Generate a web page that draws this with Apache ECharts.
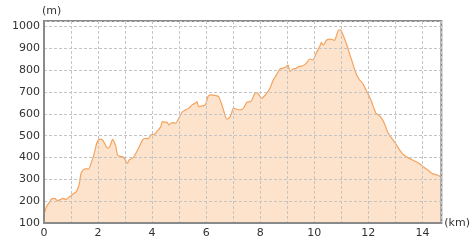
<!DOCTYPE html>
<html><head><meta charset="utf-8">
<script src="https://cdn.jsdelivr.net/npm/echarts@6/dist/echarts.min.js"></script>
<style>html,body{margin:0;padding:0;background:#fff}#c{width:473px;height:249px}</style>
</head><body><div id="c"></div>
<script>
const distanceKm = [0,0.03,0.09,0.21,0.27,0.39,0.5,0.6,0.7,0.82,0.94,1.07,1.19,1.25,1.31,1.37,1.45,1.55,1.65,1.74,1.86,1.95,2.02,2.1,2.18,2.3,2.38,2.45,2.54,2.6,2.66,2.72,2.82,2.9,2.98,3.09,3.15,3.27,3.36,3.46,3.55,3.64,3.76,3.85,3.95,4.05,4.13,4.25,4.32,4.38,4.48,4.56,4.62,4.68,4.74,4.87,4.99,5.11,5.24,5.36,5.48,5.6,5.66,5.72,5.85,5.97,6.07,6.15,6.25,6.34,6.46,6.56,6.64,6.71,6.76,6.89,7.01,7.13,7.26,7.38,7.5,7.62,7.68,7.75,7.83,7.9,7.96,8.05,8.11,8.24,8.36,8.48,8.6,8.73,8.85,8.97,9.03,9.1,9.22,9.34,9.46,9.58,9.71,9.83,9.95,10.07,10.2,10.26,10.32,10.38,10.44,10.57,10.69,10.75,10.81,10.87,10.93,10.99,11.06,11.18,11.3,11.42,11.54,11.67,11.79,11.91,12.04,12.16,12.28,12.34,12.46,12.59,12.71,12.83,12.96,13.08,13.2,13.32,13.51,13.69,13.88,14.06,14.24,14.36,14.55,14.67];
const elevationM = [148,151,174,197,210,213,202,207,213,208,220,232,243,258,282,327,343,348,347,373,419,465,482,484,478,450,443,455,483,470,450,411,405,404,395,373,389,396,410,434,455,480,488,485,503,505,511,530,541,564,562,560,549,555,560,557,580,608,618,626,641,649,656,633,636,641,679,687,686,684,679,649,618,587,575,587,626,621,618,626,652,656,661,680,697,695,685,672,676,695,717,755,778,805,809,817,824,794,805,809,817,820,832,851,847,878,908,927,916,921,936,942,939,936,954,977,985,982,962,924,878,832,786,756,740,710,679,641,603,598,585,557,518,493,473,450,427,411,396,385,373,355,339,327,320,312];
const xTickLabels = [0,2,4,6,8,10,12,14];
const yTickLabels = [100,200,300,400,500,600,700,800,900,1000];
const xUnit = '(km)', yUnit = '(m)';

const pts = distanceKm.map((d,i)=>[d, elevationM[i]]);
const chart = echarts.init(document.getElementById('c'), null, {renderer:'canvas'});
const font = 'DejaVu Sans';
const borderColor = '#8a8a8a';
chart.setOption({
  animation:false,
  backgroundColor:'#fff',
  grid:{left:44, right:29, top:21, bottom:26, show:true, borderColor:borderColor, borderWidth:2, backgroundColor:'transparent'},
  xAxis:{type:'value', min:0, max:14.7, interval:1,
    name:xUnit, nameLocation:'end', nameGap:3,
    nameTextStyle:{fontFamily:font, fontSize:11, color:'#333', verticalAlign:'middle'},
    axisLine:{show:true, lineStyle:{color:borderColor, width:2}},
    axisTick:{show:false},
    axisLabel:{fontFamily:font, fontSize:11, color:'#333', margin:5, showMaxLabel:false,
      formatter:v=> xTickLabels.includes(v) ? String(v) : ''},
    splitLine:{show:true, lineStyle:{color:'#c4c4c4', type:[3,2], width:1}}
  },
  yAxis:{type:'value', min:100, max:1025, interval:100,
    name:yUnit, nameLocation:'end', nameGap:4,
    nameTextStyle:{fontFamily:font, fontSize:11, color:'#333', align:'left', padding:[0,0,0,-2]},
    axisLine:{show:true, lineStyle:{color:borderColor, width:2}},
    axisTick:{show:false},
    axisLabel:{fontFamily:font, fontSize:11, color:'#333', margin:4, showMaxLabel:false,
      formatter:v=> yTickLabels.includes(v) ? String(v) : ''},
    splitLine:{show:true, lineStyle:{color:'#c4c4c4', type:[3,2], width:1}}
  },
  series:[{type:'line', data:pts, showSymbol:false, smooth:0.2,
    lineStyle:{color:'#f4a35e', width:1.2},
    areaStyle:{color:'#fde3cc', opacity:1},
    z:-1
  }]
});
</script></body></html>
